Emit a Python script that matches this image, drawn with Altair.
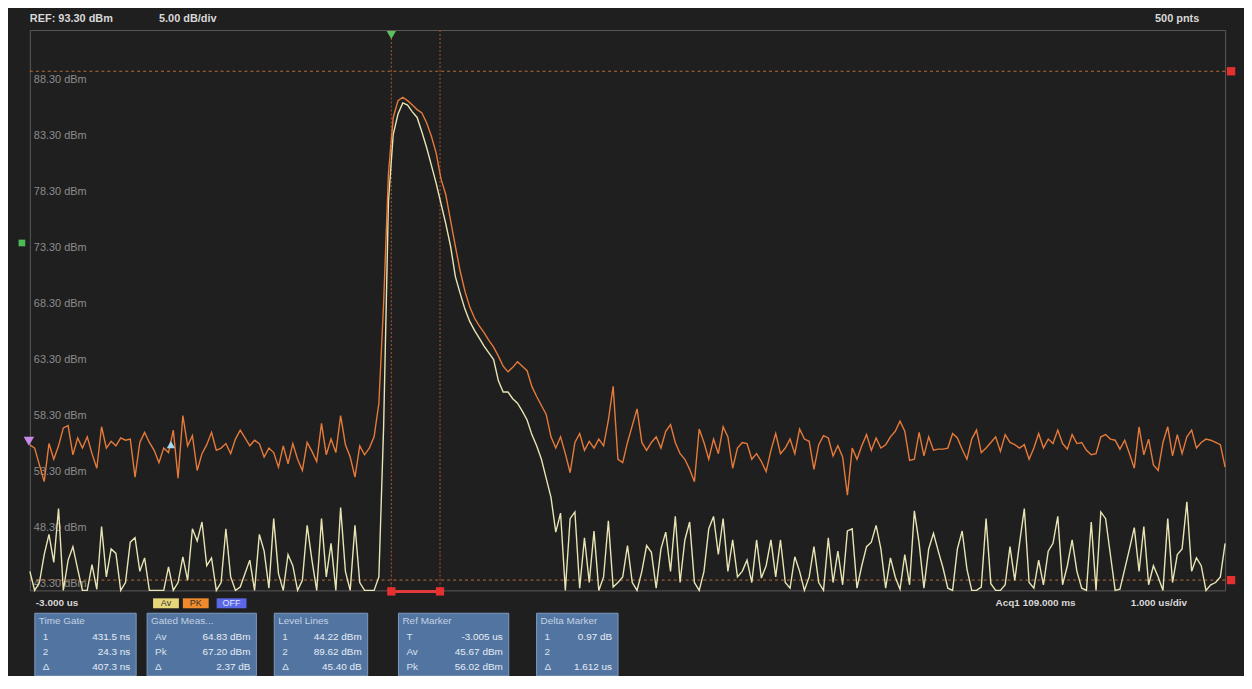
import altair as alt
import pandas as pd

# ---------------- data ----------------
T_START = -3.0      # us, left edge
T_STEP = 0.04       # us between plotted samples
PK = [56.3, 56.0, 54.5, 53.0, 56.4, 55.0, 56.2, 57.8, 58.0, 55.4,
      56.9, 56.0, 57.0, 55.5, 54.2, 57.9, 56.0, 56.6, 56.2, 56.9,
      56.7, 56.8, 53.4, 56.5, 57.4, 56.5, 55.8, 54.7, 56.0, 55.6,
      57.6, 53.3, 58.9, 56.2, 57.1, 54.0, 55.5, 56.3, 57.4, 55.8,
      56.0, 56.4, 55.5, 56.8, 57.6, 56.9, 56.2, 56.7, 56.4, 55.2,
      56.0, 55.6, 54.3, 56.2, 54.6, 56.4, 55.0, 54.0, 56.5, 55.7,
      54.8, 58.2, 55.4, 56.8, 55.6, 58.9, 56.3, 55.2, 53.4, 56.2,
      55.4, 56.0, 57.0, 60.0, 69.0, 80.5, 85.5, 87.0, 87.3, 87.0,
      86.6, 86.2, 85.9, 85.0, 83.8, 82.3, 80.0, 78.6, 76.3, 74.0,
      71.8, 70.0, 68.6, 67.6, 66.9, 66.3, 65.6, 65.0, 64.2, 63.3,
      62.8, 63.2, 63.7, 63.3, 62.9, 61.5, 60.6, 59.8, 59.0, 57.0,
      56.0, 57.0, 55.5, 53.8, 56.5, 57.3, 55.8, 56.6, 56.0, 56.8,
      56.2, 58.5, 61.5, 55.0, 54.7, 56.5, 58.0, 59.5, 56.5, 55.8,
      56.5, 57.0, 56.0, 57.5, 58.1, 56.5, 55.5, 55.0, 54.1, 53.0,
      57.7, 56.5, 55.0, 56.8, 55.5, 57.9, 57.0, 54.2, 56.0, 56.5,
      56.4, 55.0, 55.5, 54.8, 53.9, 55.8, 57.3, 55.5, 56.0, 56.8,
      55.5, 57.7, 56.8, 56.6, 54.1, 56.3, 57.1, 56.9, 55.3, 56.2,
      55.2, 51.8, 56.0, 55.0, 56.2, 57.2, 55.8, 56.9, 56.0, 56.3,
      57.0, 57.5, 58.4, 57.5, 54.9, 55.0, 57.4, 55.3, 57.0, 55.8,
      55.9, 55.9, 56.0, 57.3, 56.9, 55.9, 55.0, 56.8, 57.6, 55.6,
      56.0, 56.5, 57.0, 55.7, 57.2, 56.5, 56.3, 56.0, 56.3, 55.0,
      56.0, 57.3, 56.0, 56.8, 56.4, 57.6, 56.4, 55.9, 57.2, 56.4,
      56.5, 55.8, 55.4, 55.5, 57.0, 57.2, 56.8, 56.7, 55.9, 56.7,
      55.5, 54.2, 57.9, 55.4, 56.8, 54.5, 54.0, 56.5, 57.9, 55.3,
      57.2, 55.5, 57.0, 57.6, 56.0, 56.5, 56.8, 56.7, 56.5, 56.3,
      54.3]
AV = [45.0, 43.2, 44.0, 46.5, 48.3, 45.8, 50.6, 43.3, 46.0, 47.2,
      45.2, 43.0, 43.2, 45.6, 43.4, 49.0, 44.5, 47.0, 46.6, 43.2,
      44.0, 47.6, 48.0, 45.0, 46.2, 43.3, 43.0, 43.1, 43.0, 45.4,
      43.3, 44.0, 46.3, 44.2, 48.8, 47.7, 49.4, 45.5, 46.2, 43.2,
      44.0, 48.8, 44.5, 43.2, 43.6, 44.8, 46.0, 43.3, 48.3, 46.8,
      43.5, 49.7, 44.8, 43.2, 46.5, 45.5, 43.2, 44.2, 49.1, 46.0,
      43.3, 49.7, 44.5, 47.5, 43.3, 50.7, 45.0, 43.2, 49.1, 44.0,
      43.1, 43.0, 43.2, 44.5, 58.0, 78.0, 84.0, 85.8, 86.8, 86.6,
      86.0, 85.5, 84.2, 82.8, 81.2, 79.6, 77.8, 76.0, 74.0, 71.3,
      69.8, 68.4, 67.3, 66.5, 65.8, 65.1, 64.5, 63.9, 62.0, 61.0,
      61.0, 60.4, 60.0, 59.3, 58.5, 57.2, 56.2, 55.0, 53.3, 51.6,
      48.5, 50.2, 43.2, 49.7, 50.3, 43.5, 48.0, 44.0, 48.6, 43.3,
      44.5, 49.5, 43.6, 44.0, 44.5, 47.3, 44.0, 43.2, 45.0, 47.3,
      46.7, 43.5, 47.0, 48.5, 45.0, 49.9, 44.0, 47.8, 49.4, 44.0,
      43.1, 45.0, 48.8, 49.9, 46.5, 49.7, 45.0, 47.8, 44.5, 45.0,
      46.0, 44.0, 47.8, 44.4, 45.5, 47.8, 44.5, 47.8, 44.0, 43.5,
      46.3, 45.0, 43.1, 44.5, 47.2, 44.0, 43.2, 48.0, 44.0, 46.8,
      43.8, 48.6, 48.8, 43.5, 45.5, 47.2, 47.6, 49.1, 47.0, 43.5,
      46.2, 44.5, 43.4, 46.5, 43.8, 50.4, 47.5, 43.5, 47.0, 48.4,
      46.8, 45.3, 43.5, 43.1, 47.0, 48.6, 45.2, 43.2, 43.2, 43.6,
      49.7, 43.9, 43.2, 43.1, 43.8, 47.2, 44.2, 47.5, 50.6, 44.0,
      43.5, 46.0, 43.8, 46.8, 47.5, 49.9, 43.8, 45.5, 47.8, 45.0,
      43.5, 43.2, 49.4, 43.1, 50.3, 49.7, 46.5, 43.2, 43.4, 45.2,
      47.0, 48.9, 45.0, 49.0, 43.8, 45.5, 44.5, 43.2, 49.7, 44.0,
      46.5, 47.0, 51.2, 45.0, 46.2, 45.5, 43.2, 43.8, 44.0, 44.5,
      47.5]

X_TICKS = [-3, -2, -1, 0, 1, 2, 3, 4, 5, 6, 7]
Y_TICKS = [43.3, 48.3, 53.3, 58.3, 63.3, 68.3, 73.3, 78.3, 83.3, 88.3, 93.3]
Y_LABELS = ["43.30 dBm", "48.30 dBm", "53.30 dBm", "58.30 dBm", "63.30 dBm",
            "68.30 dBm", "73.30 dBm", "78.30 dBm", "83.30 dBm", "88.30 dBm"]
LEVEL_LINES = [44.22, 89.62]
GATE = [0.0243, 0.4315]
REF_MARK = {"t": [-1.82], "v": [56.3]}

TITLES = ["Time Gate", "Gated Meas...", "Level Lines", "Ref Marker", "Delta Marker"]
ROW_KEYS = [["1", "2", "Δ"], ["Av", "Pk", "Δ"], ["1", "2", "Δ"], ["T", "Av", "Pk"], ["1", "2", "Δ"]]
ROW_VALS = [["431.5 ns", "24.3 ns", "407.3 ns"],
            ["64.83 dBm", "67.20 dBm", "2.37 dB"],
            ["44.22 dBm", "89.62 dBm", "45.40 dB"],
            ["-3.005 us", "45.67 dBm", "56.02 dBm"],
            ["0.97 dB", "", "1.612 us"]]

# ---------------- layout / style ----------------
W, H = 1203, 564
FONT = "Liberation Sans"
BOX_X = [(5, 107), (118, 228), (246, 340), (371, 482), (510, 592)]
BOX_Y = (587, 650)
ROW_DY = [24, 39, 54]

t_vals = [T_START + T_STEP * i for i in range(len(PK))]
df = pd.DataFrame({"t": t_vals * 2, "v": AV + PK,
                   "trace": ["AV"] * len(AV) + ["PK"] * len(PK)})

xs = alt.Scale(domain=[-3, 7], nice=False, zero=False)
ys = alt.Scale(domain=[43.3, 93.3], nice=False, zero=False, clamp=True)

one = pd.DataFrame({"k": [0]})


def txt(s, x, y, **kw):
    return alt.Chart(one).mark_text(text=s, font=FONT, **kw).encode(
        x=alt.value(x), y=alt.value(y))


def rect(x0, x1, y0, y1, **kw):
    return alt.Chart(one).mark_rect(**kw).encode(
        x=alt.value(x0), x2=alt.value(x1), y=alt.value(y0), y2=alt.value(y1))


grid = alt.Chart(pd.DataFrame({"t": X_TICKS[:1], "v": Y_TICKS[:1]})).mark_point(opacity=0).encode(
    x=alt.X("t:Q", scale=xs, axis=alt.Axis(values=X_TICKS, labels=False, ticks=False,
                                           domain=False, title=None, grid=True,
                                           gridColor="#505050", gridWidth=1)),
    y=alt.Y("v:Q", scale=ys, axis=alt.Axis(values=Y_TICKS, labels=False, ticks=False,
                                           domain=False, title=None, grid=True,
                                           gridColor="#505050", gridWidth=1)),
)

ylab = alt.Chart(pd.DataFrame({"v": Y_TICKS[:-1], "lab": Y_LABELS})).mark_text(
    align="left", baseline="bottom", dy=-1, font=FONT, fontSize=11, color="#8c8c8c"
).encode(x=alt.value(4), y=alt.Y("v:Q", scale=ys, axis=None), text="lab:N")

levels = alt.Chart(pd.DataFrame({"v": LEVEL_LINES})).mark_rule(
    color="#c8773a", strokeDash=[3, 3], strokeWidth=1, opacity=0.9
).encode(y=alt.Y("v:Q", scale=ys, axis=None))

level_marks = alt.Chart(pd.DataFrame({"v": LEVEL_LINES})).mark_square(
    color="#e53030", size=70, opacity=1, filled=True
).encode(x=alt.value(W + 6), y=alt.Y("v:Q", scale=ys, axis=None))

gates = alt.Chart(pd.DataFrame({"t": GATE})).mark_rule(
    color="#9c4a2a", strokeDash=[2, 2], strokeWidth=1.2
).encode(x=alt.X("t:Q", scale=xs, axis=None))

gate_bar = alt.Chart(pd.DataFrame({"t": [GATE[0]], "t2": [GATE[1]]})).mark_rule(
    color="#e03a3a", strokeWidth=3
).encode(x=alt.X("t:Q", scale=xs, axis=None), x2="t2:Q", y=alt.value(H + 1))

gate_marks = alt.Chart(pd.DataFrame({"t": GATE})).mark_square(
    color="#e53030", size=70, filled=True, opacity=1
).encode(x=alt.X("t:Q", scale=xs, axis=None), y=alt.value(H + 1))

gate_tri = alt.Chart(pd.DataFrame({"t": [GATE[0]]})).mark_point(
    shape="triangle-down", filled=True, color="#5cc060", size=90, opacity=1
).encode(x=alt.X("t:Q", scale=xs, axis=None), y=alt.value(5))

traces = alt.Chart(df).mark_line(strokeWidth=1.4, interpolate="linear").encode(
    x=alt.X("t:Q", scale=xs, axis=None),
    y=alt.Y("v:Q", scale=ys, axis=None),
    color=alt.Color("trace:N", scale=alt.Scale(domain=["AV", "PK"],
                                               range=["#e9e4b4", "#e57a3a"]), legend=None),
    order=alt.Order("t:Q"),
)

ref_tri = alt.Chart(pd.DataFrame(REF_MARK)).mark_point(
    shape="triangle-up", filled=True, color="#a8d8f0", size=70, opacity=1
).encode(x=alt.X("t:Q", scale=xs, axis=None), y=alt.Y("v:Q", scale=ys, axis=None))

purple = alt.Chart(pd.DataFrame({"v": [56.6]})).mark_point(
    shape="triangle-down", filled=True, color="#c68be8", size=110, opacity=1
).encode(x=alt.value(-1), y=alt.Y("v:Q", scale=ys, axis=None))

green_sq = alt.Chart(pd.DataFrame({"v": [74.3]})).mark_square(
    color="#4cbb55", size=45, filled=True, opacity=1
).encode(x=alt.value(-8), y=alt.Y("v:Q", scale=ys, axis=None))

layers = [grid, ylab, levels, gates, traces, gate_bar, gate_marks, gate_tri,
          level_marks, ref_tri, purple, green_sq]

# header / footer texts
layers += [
    txt("REF: 93.30 dBm", 0, -11, align="left", baseline="middle", fontSize=11,
        fontWeight="bold", color="#d8d8d8"),
    txt("5.00 dB/div", 130, -11, align="left", baseline="middle", fontSize=11,
        fontWeight="bold", color="#d8d8d8"),
    txt("500 pnts", 1177, -11, align="right", baseline="middle", fontSize=11,
        fontWeight="bold", color="#d8d8d8"),
    txt("-3.000 us", 6, 577, align="left", baseline="middle", fontSize=10,
        fontWeight="bold", color="#d8d8d8"),
    txt("Acq1  109.000 ms", 972, 577, align="left", baseline="middle", fontSize=10,
        fontWeight="bold", color="#d8d8d8"),
    txt("1.000 us/div", 1108, 577, align="left", baseline="middle", fontSize=10,
        fontWeight="bold", color="#d8d8d8"),
]

# trace legend chips
for (lab, x0, x1, fill, tc) in [("Av", 124, 150, "#e8d77a", "#333"),
                                ("PK", 154, 180, "#f08a2a", "#333"),
                                ("OFF", 188, 218, "#5a68e8", "#dfe4ff")]:
    layers.append(rect(x0, x1, 572, 582, color=fill))
    layers.append(txt(lab, (x0 + x1) / 2, 577, align="center", baseline="middle",
                      fontSize=9, color=tc))

# readout tables
for i, (x0, x1) in enumerate(BOX_X):
    y0, y1 = BOX_Y
    layers.append(rect(x0, x1, y0, y1, color="#5274a0", stroke="#7d9bc2", strokeWidth=1))
    layers.append(txt(TITLES[i], x0 + 4, y0 + 8, align="left", baseline="middle",
                      fontSize=10, color="#c3d2e6"))
    for r in range(3):
        layers.append(txt(ROW_KEYS[i][r], x0 + 8, y0 + ROW_DY[r], align="left",
                          baseline="middle", fontSize=10, color="#d8e2ef"))
        if ROW_VALS[i][r]:
            layers.append(txt(ROW_VALS[i][r], x1 - 6, y0 + ROW_DY[r], align="right",
                              baseline="middle", fontSize=10, color="#e6edf6"))

chart = alt.layer(*layers).properties(
    width=W, height=H,
    padding={"left": 22, "top": 20, "right": 19, "bottom": 84},
    autosize=alt.AutoSizeParams(type="none"),
    background="#1f1f1f",
).configure_view(stroke="#5a5a5a", strokeWidth=1, fill="#1f1f1f")

chart.save("out.html", embed_options={"renderer": "svg", "actions": False})
